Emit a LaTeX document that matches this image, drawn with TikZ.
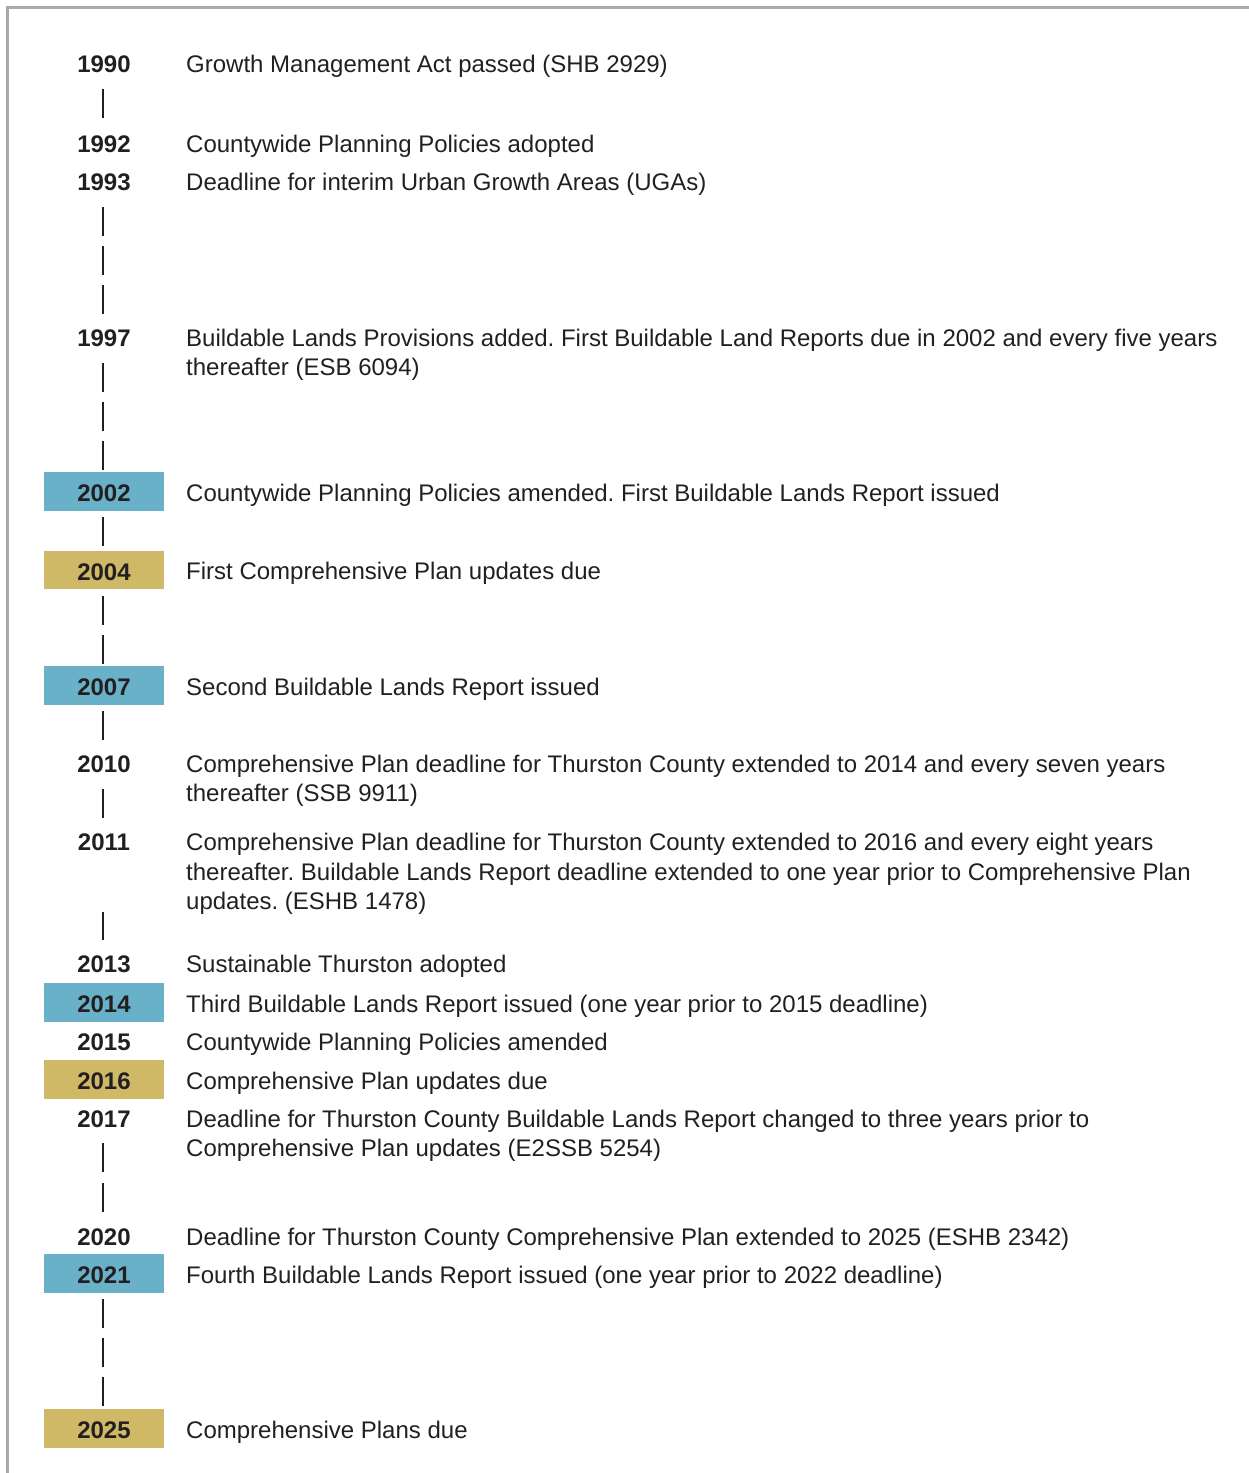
\documentclass[tikz,border=0pt]{standalone}
\usepackage{fontspec}
\setmainfont{Liberation Sans}
\definecolor{ink}{HTML}{231F20}
\definecolor{frame}{HTML}{A7A9AC}
\definecolor{bluebox}{HTML}{69B0C9}
\definecolor{goldbox}{HTML}{CFB866}
\tikzset{
  year/.style={font=\fontsize{24}{29.5}\selectfont\bfseries, text=ink, inner sep=0pt, anchor=base},
  yearbox/.style={font=\fontsize{24}{29.5}\selectfont\bfseries, text=ink, inner sep=0pt, anchor=center,
     minimum width=120pt, minimum height=38.5pt, text height=20pt, text depth=0pt},
  desc/.style={font=\fontsize{24}{29.5}\selectfont\frenchspacing, text=ink, inner sep=0pt, anchor=base west},
  tickline/.style={draw=ink, line width=2.4pt},
}
\newcommand{\ml}[1]{\parbox[t]{1060pt}{\raggedright\frenchspacing #1}}
\begin{document}
\begin{tikzpicture}[x=1pt,y=-1pt]
\useasboundingbox (0,0) rectangle (1249,1473);
% frame
\draw[frame, line width=3pt] (7.5,1473) -- (7.5,7.5) -- (1249,7.5);

% years
\node[year] (y1990) at (104,72) {1990};
\node[year] (y1992) at (104,152) {1992};
\node[year] (y1993) at (104,190) {1993};
\node[year] (y1997) at (104,346) {1997};
\node[yearbox, fill=bluebox] (y2002) at (104,491.5) {2002};
\node[yearbox, fill=goldbox] (y2004) at (104,570) {2004};
\node[yearbox, fill=bluebox] (y2007) at (104,685.5) {2007};
\node[year] (y2010) at (104,772) {2010};
\node[year] (y2011) at (104,850.5) {2011};
\node[year] (y2013) at (104,972.5) {2013};
\node[yearbox, fill=bluebox] (y2014) at (104,1002.5) {2014};
\node[year] (y2015) at (104,1050) {2015};
\node[yearbox, fill=goldbox] (y2016) at (104,1079.5) {2016};
\node[year] (y2017) at (104,1127) {2017};
\node[year] (y2020) at (104,1245) {2020};
\node[yearbox, fill=bluebox] (y2021) at (104,1273.5) {2021};
\node[yearbox, fill=goldbox] (y2025) at (104,1428.5) {2025};

% descriptions
\node[desc] (d1990) at (186,72) {Growth Management Act passed (SHB 2929)};
\node[desc] (d1992) at (186,152) {Countywide Planning Policies adopted};
\node[desc] (d1993) at (186,190) {Deadline for interim Urban Growth Areas (UGAs)};
\node[desc] (d1997) at (186,346) {\ml{Buildable Lands Provisions added. First Buildable Land Reports due in 2002 and every five years\\thereafter (ESB 6094)}};
\node[desc] (d2002) at (186,501.5) {Countywide Planning Policies amended. First Buildable Lands Report issued};
\node[desc] (d2004) at (186,579.5) {First Comprehensive Plan updates due};
\node[desc] (d2007) at (186,695.5) {Second Buildable Lands Report issued};
\node[desc] (d2010) at (186,772) {\ml{Comprehensive Plan deadline for Thurston County extended to 2014 and every seven years\\thereafter (SSB 9911)}};
\node[desc] (d2011) at (186,850.5) {\ml{Comprehensive Plan deadline for Thurston County extended to 2016 and every eight years\\thereafter. Buildable Lands Report deadline extended to one year prior to Comprehensive Plan\\updates. (ESHB 1478)}};
\node[desc] (d2013) at (186,972.5) {Sustainable Thurston adopted};
\node[desc] (d2014) at (186,1012) {Third Buildable Lands Report issued (one year prior to 2015 deadline)};
\node[desc] (d2015) at (186,1050) {Countywide Planning Policies amended};
\node[desc] (d2016) at (186,1089.5) {Comprehensive Plan updates due};
\node[desc] (d2017) at (186,1127) {\ml{Deadline for Thurston County Buildable Lands Report changed to three years prior to\\Comprehensive Plan updates (E2SSB 5254)}};
\node[desc] (d2020) at (186,1245) {Deadline for Thurston County Comprehensive Plan extended to 2025 (ESHB 2342)};
\node[desc] (d2021) at (186,1283.5) {Fourth Buildable Lands Report issued (one year prior to 2022 deadline)};
\node[desc] (d2025) at (186,1438.5) {Comprehensive Plans due};

% tick marks
\foreach \a/\b in {89/118, 207/236, 246/275, 285/314, 363/392, 402/431, 441/470,
  517/546, 596/625, 635/664, 711/740, 789/818, 912/940, 1143/1172, 1183/1212,
  1299/1328, 1338/1367, 1377/1406}
  \draw[tickline] (103,\a) -- (103,\b);
\end{tikzpicture}
\end{document}
